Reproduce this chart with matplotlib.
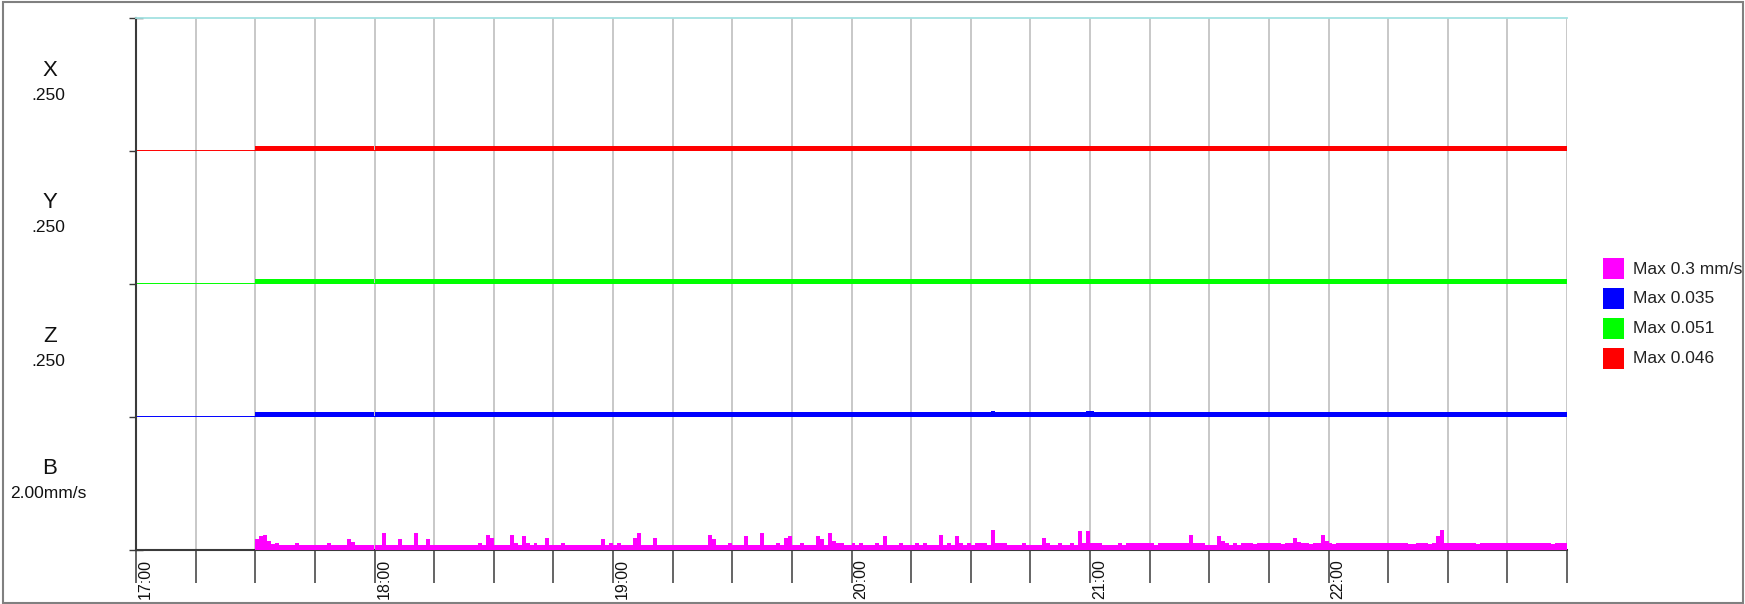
import matplotlib
matplotlib.use("Agg")
import matplotlib.pyplot as plt
from matplotlib.patches import Rectangle
from matplotlib.transforms import offset_copy

plt.rcParams['font.family'] = ['Liberation Sans', 'DejaVu Sans']

W, H = 1745, 604

# time axis: minutes after 17:00
tick_minutes = list(range(0, 361, 15))
hour_minutes = [0, 60, 120, 180, 240, 300]
hour_labels = ["17:00", "18:00", "19:00", "20:00", "21:00", "22:00"]

# B channel (mm/s), one value per minute from 17:30 to 22:59
b_first_minute = 30
b_values = [
    .17, .21, .22, .13, .09, .11, .08, .08, .08, .08,
    .11, .08, .08, .08, .08, .08, .08, .08, .11, .08,
    .08, .08, .08, .16, .12, .08, .08, .08, .08, .08,
    .08, .08, .26, .08, .08, .08, .16, .08, .08, .08,
    .26, .08, .08, .16, .08, .08, .08, .08, .08, .08,
    .08, .08, .08, .08, .08, .08, .11, .08, .23, .18,
    .08, .08, .08, .08, .23, .10, .08, .21, .11, .08,
    .11, .08, .08, .18, .08, .08, .08, .11, .08, .08,
    .08, .08, .08, .08, .08, .08, .08, .16, .08, .11,
    .08, .11, .08, .08, .08, .18, .26, .08, .08, .08,
    .18, .08, .08, .08, .08, .08, .08, .08, .08, .08,
    .08, .08, .08, .08, .23, .16, .08, .08, .08, .11,
    .08, .08, .08, .21, .08, .08, .08, .26, .08, .08,
    .08, .11, .08, .18, .21, .08, .08, .11, .08, .08,
    .08, .21, .16, .08, .26, .13, .11, .11, .08, .08,
    .11, .08, .11, .08, .08, .08, .11, .08, .21, .08,
    .08, .08, .11, .08, .08, .08, .10, .08, .11, .08,
    .08, .08, .23, .08, .11, .08, .21, .11, .08, .11,
    .08, .11, .11, .11, .08, .30, .11, .11, .11, .08,
    .08, .08, .08, .11, .08, .08, .08, .08, .18, .11,
    .08, .08, .11, .08, .08, .11, .08, .28, .11, .28,
    .11, .11, .11, .08, .08, .08, .08, .11, .08, .11,
    .11, .11, .11, .11, .11, .11, .08, .11, .11, .11,
    .11, .11, .11, .11, .11, .23, .11, .11, .11, .08,
    .08, .08, .21, .14, .11, .08, .11, .08, .11, .11,
    .11, .09, .11, .11, .11, .11, .11, .11, .09, .11,
    .11, .18, .12, .11, .11, .09, .11, .11, .23, .14,
    .11, .09, .11, .11, .11, .11, .11, .11, .11, .11,
    .11, .11, .11, .11, .11, .11, .11, .11, .11, .11,
    .09, .09, .11, .11, .11, .09, .11, .21, .30, .11,
    .11, .11, .11, .11, .11, .11, .11, .09, .11, .11,
    .11, .11, .11, .11, .11, .11, .11, .11, .11, .11,
    .11, .11, .11, .11, .11, .11, .09, .11, .11, .11,
]
b_gap = 60  # short break in the record at 18:00

# X / Y / Z channels: step edges (minutes) and levels
x_edges = [30, 59.8, 60, 360]
x_values = [0.009, None, 0.009]
y_edges = [30, 59.8, 60, 360]
y_values = [0.009, None, 0.009]
z_edges = [30, 59.8, 60, 215, 216, 239, 241, 360]
z_values = [0.009, None, 0.009, 0.011, 0.009, 0.011, 0.009]

names = ["X", "Y", "Z", "B"]
scale_text = [".250", ".250", ".250", "2.00mm/s"]
scales = [0.25, 0.25, 0.25, 2.0]
colors = ["#ff0000", "#00ff00", "#0000ff", "#ff00ff"]

legend_labels = ["Max 0.3 mm/s", "Max 0.035", "Max 0.051", "Max 0.046"]
legend_colors = ["#ff00ff", "#0000ff", "#00ff00", "#ff0000"]

axis_col = "#3a3a3a"
left_px, right_px = 136, 1567
top_px, band_px = 18, 133

fig = plt.figure(figsize=(W / 100, H / 100), dpi=100)

axes = []
for i, name in enumerate(names):
    top = top_px + i * band_px
    ax = fig.add_axes([left_px / W, 1 - (top + band_px) / H,
                       (right_px - left_px) / W, band_px / H])
    ax.set_xlim(0, 360)
    ax.set_ylim(0, scales[i])
    for s in ax.spines.values():
        s.set_visible(False)
    ax.spines['left'].set_visible(True)
    ax.spines['left'].set_color(axis_col)
    ax.spines['left'].set_linewidth(1.5)
    ax.set_xticks(tick_minutes)
    ax.grid(axis='x', color='#c4c4c4', lw=1.3)
    ax.set_axisbelow(True)
    ax.tick_params(axis='x', length=0, labelbottom=False)
    ax.set_yticks([0, scales[i]] if i == 0 else [0])
    ax.tick_params(axis='y', direction='inout', length=10, width=1,
                   color=axis_col, labelleft=False)
    axes.append(ax)

    fig.text(50 / W, 1 - (top + 52) / H, name, ha='center', va='center',
             fontsize=16, color='#111111')
    fig.text(48 / W, 1 - (top + 77) / H, scale_text[i], ha='center',
             va='center', fontsize=12.5, color='#111111')

# top border line
axes[0].spines['top'].set_visible(True)
axes[0].spines['top'].set_color('#a4e2e2')
axes[0].spines['top'].set_linewidth(1.3)

# X, Y, Z traces
for ax, col, edges, vals in zip(axes[:3], colors[:3],
                                [x_edges, y_edges, z_edges],
                                [x_values, y_values, z_values]):
    ax.plot([0, 360], [0, 0], color=col, lw=1.4, clip_on=False, zorder=3,
            solid_capstyle='butt')
    for k, v in enumerate(vals):
        if v is None:
            continue
        ax.stairs([v], [edges[k], edges[k + 1]], fill=True, color=col,
                  lw=0, zorder=3)

# B trace
axb = axes[3]
n1 = b_gap - b_first_minute
edges1 = list(range(b_first_minute, b_gap)) + [b_gap - 0.2]
edges2 = list(range(b_gap, b_first_minute + len(b_values) + 1))
axb.stairs(b_values[:n1], edges1, fill=True, color=colors[3], lw=0, zorder=3)
axb.stairs(b_values[n1:], edges2, fill=True, color=colors[3], lw=0, zorder=3)

axb.spines['bottom'].set_visible(True)
axb.spines['bottom'].set_color(axis_col)
axb.spines['bottom'].set_linewidth(1.5)
axb.tick_params(axis='x', direction='out', length=24, width=1.1,
                color=axis_col)

lab_tr = offset_copy(axb.get_xaxis_transform(), fig=fig, x=2, y=-9,
                     units='dots')
for m, lab in zip(hour_minutes, hour_labels):
    axb.text(m, 0, lab, transform=lab_tr, rotation=90, ha='left', va='top',
             fontsize=11.5, color='#111111')

# legend
for k, (lab, col) in enumerate(zip(legend_labels, legend_colors)):
    cy = 269 + k * 29.7
    fig.add_artist(Rectangle((1603 / W, 1 - (cy + 10.5) / H), 21 / W, 21 / H,
                             transform=fig.transFigure, color=col, lw=0))
    fig.text(1633 / W, 1 - cy / H, lab, ha='left', va='center',
             fontsize=12.5, color='#222222')

# outer frame
fig.add_artist(Rectangle((3.5 / W, 1.5 / H), (1743 - 3.5) / W, (602 - 1.5) / H,
                         transform=fig.transFigure, fill=False,
                         ec='#808080', lw=1.5))

fig.savefig('out.png', dpi=100)
